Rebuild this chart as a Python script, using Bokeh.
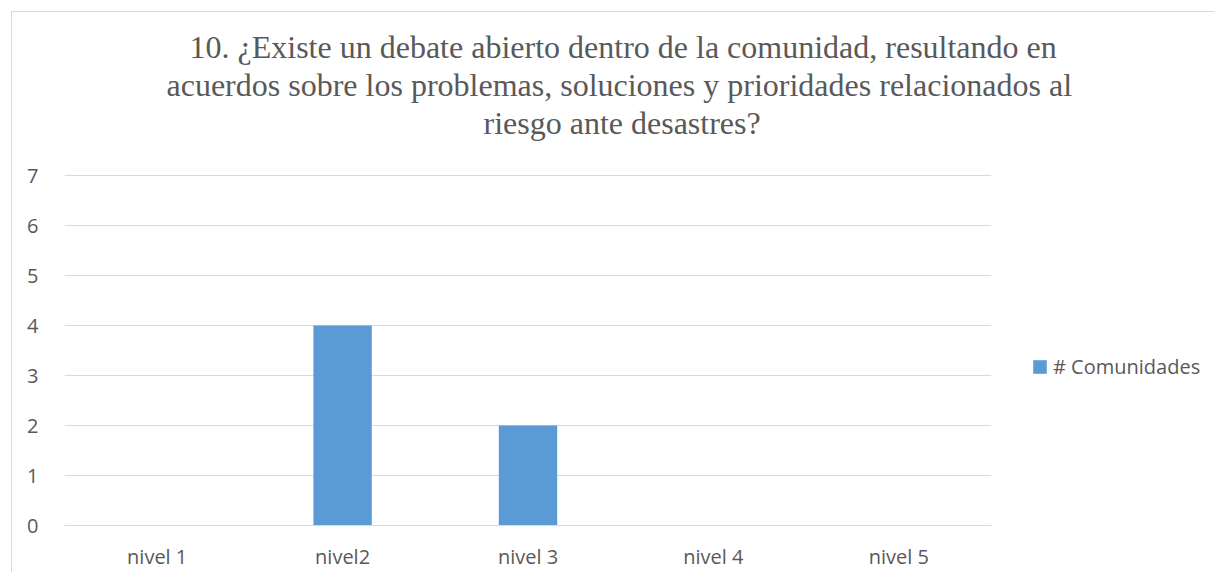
from bokeh.plotting import figure
from bokeh.models import (ColumnDataSource, FixedTicker, Legend, LegendItem, Title)
from bokeh.embed import file_html
from bokeh.resources import INLINE

categories = ["nivel 1", "nivel2", "nivel 3", "nivel 4", "nivel 5"]
comunidades = [0, 4, 2, 0, 0]
y_ticks = [0, 1, 2, 3, 4, 5, 6, 7]
series_name = "# Comunidades"
title_lines = ["10. ¿Existe un debate abierto dentro de la comunidad, resultando en",
               "acuerdos sobre los problemas, soluciones y prioridades relacionados al",
               "riesgo ante desastres?"]
title_offsets = [125, 102, 419]

TXT = "#595959"
GRID = "#d9d9d9"
BAR = "#5b9bd5"

src = ColumnDataSource(dict(cat=categories, val=comunidades))

p = figure(x_range=categories, y_range=(0, 7.04),
           frame_width=927, frame_height=352,
           output_backend="svg", toolbar_location=None,
           min_border_left=52, min_border_right=216,
           min_border_top=161, min_border_bottom=46,
           margin=(11, 0, 0, 11),
           styles={"border-left": "1px solid #d9d9d9", "border-top": "1px solid #d9d9d9"})
p.outline_line_color = None
p.background_fill_color = "white"
p.border_fill_color = "white"

r = p.vbar(x="cat", top="val", width=0.315, source=src,
           fill_color=BAR, line_color=None)

p.xgrid.grid_line_color = None
p.ygrid.grid_line_color = GRID
p.ygrid.grid_line_width = 1
p.yaxis.ticker = FixedTicker(ticks=y_ticks)

for ax in (p.xaxis, p.yaxis):
    ax.major_tick_line_color = None
    ax.minor_tick_line_color = None
    ax.major_label_text_font = "Open Sans"
    ax.major_label_text_font_size = "20px"
    ax.major_label_text_color = TXT
p.yaxis.axis_line_color = None
p.xaxis.axis_line_color = GRID
p.yaxis.major_label_standoff = 20
p.xaxis.major_label_standoff = 11

# spacer between the frame and the title block
p.add_layout(Title(text=" ", text_font_size="1px", standoff=30), "above")
# added bottom line first: later titles stack further from the frame
for line, off in reversed(list(zip(title_lines, title_offsets))):
    t = Title(text=line, align="left", text_font="Liberation Serif",
              text_font_size="32px", text_font_style="normal", text_color=TXT,
              text_line_height=0.97, standoff=0, offset=off)
    p.add_layout(t, "above")

legend = Legend(items=[LegendItem(label=series_name, renderers=[r])],
                location=(40, 145), orientation="vertical",
                glyph_width=17, glyph_height=17, label_standoff=5,
                label_text_font="Open Sans", label_text_font_size="20px",
                label_text_color=TXT, border_line_color=None,
                background_fill_alpha=0, padding=0, margin=0, spacing=0)
p.add_layout(legend, "right")

open("out.html", "w").write(file_html(p, INLINE))
